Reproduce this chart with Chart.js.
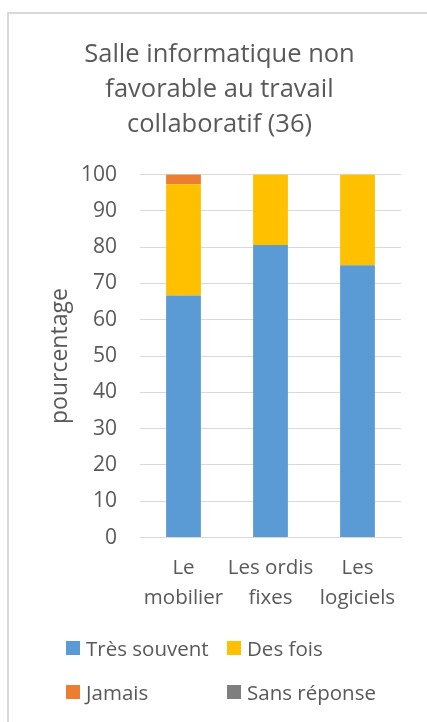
<!DOCTYPE html>
<html lang="fr">
<head>
<meta charset="utf-8">
<script src="https://cdn.jsdelivr.net/npm/chart.js@4/dist/chart.umd.min.js"></script>
<style>
  html, body { margin: 0; padding: 0; background: #fff; overflow: hidden; }
  #wrap { position: relative; width: 427px; height: 722px; }
  #frame {
    position: absolute; left: 7px; top: 12px; width: 600px; height: 800px;
    border-left: 2px solid #d9d9d9; border-top: 2px solid #d9d9d9;
  }
  #chart { position: absolute; left: 0; top: 0; }
  #legend {
    position: absolute; left: 66px; top: 634px; width: 350px;
    display: grid; grid-template-columns: 161px 180px; row-gap: 16px;
    font-family: "Open Sans", sans-serif; font-size: 20.5px; color: #595959;
  }
  #legend .item { display: flex; align-items: center; height: 28px; white-space: nowrap; }
  #legend .box { width: 14px; height: 14px; margin-right: 6px; flex: none; }
</style>
</head>
<body>
<div id="wrap">
  <div id="frame"></div>
  <canvas id="chart" width="427" height="722"></canvas>
  <div id="legend"></div>
</div>
<script>
// Catégories (libellés sur deux lignes) et pourcentages par réponse
var categories = [['Le', 'mobilier'], ['Les ordis', 'fixes'], ['Les', 'logiciels']];
var tresSouvent = [66.7, 80.6, 75.0];
var desFois = [30.6, 19.4, 25.0];
var jamais = [2.8, 0, 0];
var sansReponse = [0, 0, 0];
var yTicks = [0, 10, 20, 30, 40, 50, 60, 70, 80, 90, 100];

var seriesNames = ['Très souvent', 'Des fois', 'Jamais', 'Sans réponse'];
var seriesColors = ['#5b9bd5', '#ffc000', '#ed7d31', '#7f7f7f'];
var seriesData = [tresSouvent, desFois, jamais, sansReponse];

var textColor = '#595959';
var fontFamily = '"Open Sans", sans-serif';

var datasets = seriesNames.map(function(name, i) {
    return {
        label: name,
        data: seriesData[i],
        backgroundColor: seriesColors[i],
        borderWidth: 0,
        categoryPercentage: 1.0,
        barPercentage: 0.4
    };
});

var ctx = document.getElementById('chart').getContext('2d');
var chart = new Chart(ctx, {
    type: 'bar',
    data: { labels: categories, datasets: datasets },
    options: {
        responsive: false,
        animation: false,
        layout: { padding: { left: 38, right: 26, top: 37, bottom: 101 } },
        scales: {
            x: {
                stacked: true,
                grid: { display: false },
                border: { display: true, color: '#d9d9d9', width: 1 },
                ticks: {
                    color: textColor,
                    font: { family: fontFamily, size: 20.5, lineHeight: 1.45 },
                    maxRotation: 0,
                    autoSkip: false,
                    padding: 8
                }
            },
            y: {
                stacked: true,
                min: 0,
                max: 100,
                afterBuildTicks: function(axis) {
                    axis.ticks = yTicks.map(function(v) { return { value: v }; });
                },
                // largeur fixe de l'axe : zone de tracé à partir de x = 140
                afterFit: function(axis) {
                    axis.width = 102;
                },
                grid: { color: '#d9d9d9', lineWidth: 1, drawTicks: false },
                border: { display: false },
                ticks: {
                    color: textColor,
                    font: { family: fontFamily, size: 21 },
                    padding: 23
                },
                title: {
                    display: true,
                    text: 'pourcentage',
                    color: textColor,
                    font: { family: fontFamily, size: 23 },
                    padding: { top: 9, bottom: 0 }
                }
            }
        },
        plugins: {
            legend: { display: false },
            tooltip: { enabled: false },
            title: {
                display: true,
                text: ['Salle informatique non', 'favorable au travail', 'collaboratif (36)'],
                color: textColor,
                font: { family: fontFamily, size: 25.5, weight: 'normal', lineHeight: 1.38 },
                padding: { top: 0, bottom: 32 }
            }
        }
    }
});

// Légende en deux colonnes sous le graphique
var legendEl = document.getElementById('legend');
chart.data.datasets.forEach(function(ds) {
    var item = document.createElement('div');
    item.className = 'item';
    var box = document.createElement('span');
    box.className = 'box';
    box.style.background = ds.backgroundColor;
    item.appendChild(box);
    item.appendChild(document.createTextNode(ds.label));
    legendEl.appendChild(item);
});
</script>
</body>
</html>
